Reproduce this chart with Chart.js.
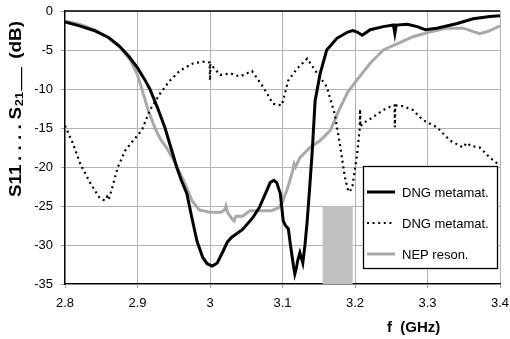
<!DOCTYPE html>
<html>
<head>
<meta charset="utf-8">
<script src="https://cdn.jsdelivr.net/npm/chart.js@4/dist/chart.umd.min.js"></script>
<style>
html,body{margin:0;padding:0;background:#fff;}
#wrap{width:510px;height:339px;}
</style>
</head>
<body>
<div id="wrap"><canvas id="c" width="510" height="339"></canvas></div>
<script>
// ---- data ----
const xTicks = [2.8, 2.9, 3.0, 3.1, 3.2, 3.3, 3.4];
const yTicks = [0, -5, -10, -15, -20, -25, -30, -35];

const s21Freq = [2.800,2.820,2.840,2.860,2.875,2.888,2.900,2.910,2.917,2.928,2.938,2.946,2.954,2.960,2.968,2.975,2.982,2.990,2.996,3.003,3.010,3.018,3.024,3.030,3.045,3.059,3.068,3.076,3.083,3.088,3.092,3.097,3.101,3.104,3.108,3.111,3.115,3.117,3.119,3.121,3.124,3.128,3.131,3.134,3.138,3.141,3.145,3.152,3.161,3.175,3.190,3.197,3.203,3.210,3.221,3.239,3.253,3.255,3.257,3.272,3.286,3.297,3.313,3.341,3.363,3.386,3.400];
const s21Val  = [-1.4,-1.9,-2.5,-3.4,-4.5,-5.8,-7.3,-8.8,-10,-12.5,-15,-17.5,-20,-21.6,-23.4,-26.5,-29.5,-31.6,-32.4,-32.7,-32.3,-30.8,-29.6,-29,-28,-26.5,-25.2,-23.5,-22,-21.7,-22,-23.4,-26.9,-27.5,-27.9,-30,-32.6,-33.7,-33,-32,-31,-32.3,-30,-27,-22,-18,-11.5,-8,-5,-3.5,-2.7,-2.5,-2.7,-3.1,-2.4,-2.0,-1.8,-2.9,-1.8,-1.7,-2.0,-2.4,-2.2,-1.6,-1.0,-0.7,-0.6];

const s11Freq = [2.800,2.811,2.821,2.835,2.848,2.855,2.858,2.860,2.864,2.873,2.883,2.894,2.906,2.917,2.931,2.945,2.959,2.977,2.990,2.9995,3.000,3.0005,3.014,3.028,3.041,3.058,3.073,3.087,3.099,3.108,3.120,3.134,3.145,3.161,3.172,3.179,3.186,3.191,3.196,3.203,3.2065,3.207,3.2075,3.211,3.225,3.239,3.252,3.2545,3.255,3.2555,3.266,3.280,3.294,3.313,3.331,3.349,3.354,3.360,3.372,3.386,3.400];
const s11Val  = [-14.7,-17,-19.6,-22.1,-24.0,-24.3,-23.8,-24.2,-23,-20,-17.9,-16.6,-15.3,-12.7,-10.6,-8.9,-7.6,-6.7,-6.5,-6.6,-8.9,-6.8,-8.2,-8.0,-8.4,-7.7,-9.7,-11.9,-12.1,-8.9,-7.4,-6.1,-7.6,-9.7,-13.2,-17,-21.3,-23.2,-22.8,-18.3,-15,-12.6,-14.8,-14.4,-13.6,-12.7,-12.1,-12.1,-14.9,-12.1,-12.2,-12.7,-14.0,-14.9,-16.6,-17.5,-16.9,-17.3,-17.5,-18.8,-19.8];

const nepFreq = [2.800,2.820,2.840,2.860,2.875,2.890,2.900,2.906,2.915,2.924,2.932,2.940,2.952,2.965,2.975,2.985,3.000,3.015,3.020,3.022,3.024,3.030,3.033,3.036,3.045,3.055,3.070,3.085,3.095,3.100,3.107,3.114,3.116,3.118,3.124,3.138,3.152,3.166,3.179,3.190,3.203,3.221,3.239,3.258,3.280,3.303,3.327,3.349,3.372,3.384,3.400];
const nepVal  = [-1.3,-1.7,-2.4,-3.4,-4.6,-6.3,-8.2,-10,-12.8,-15,-16.5,-17.5,-19.5,-22,-24.3,-25.5,-25.8,-25.8,-25.5,-25,-25.8,-26.6,-26.9,-26.3,-26.3,-25.6,-25.6,-25.6,-25.2,-24.5,-22.7,-20.5,-19.6,-20,-18.8,-17.5,-16.6,-15.3,-12.5,-10.4,-8.8,-6.7,-5.0,-4.2,-3.3,-2.7,-2.2,-2.2,-2.9,-2.6,-1.9];

const bandFreq = [3.155, 3.197];
const bandTop  = [-25, -25];

const seriesLabels = ['DNG metamat.', 'DNG metamat.', 'NEP reson.'];

// ---- build library data ----
const pts = (xs, ys) => xs.map((x, i) => ({x: x, y: ys[i]}));
const FONT = "'Liberation Sans', Arial, sans-serif";

const yTitlePlugin = {
  id: 'yTitle',
  afterDraw(chart) {
    const ctx = chart.ctx;
    ctx.save();
    ctx.translate(21, 197);
    ctx.rotate(-Math.PI / 2);
    ctx.scale(1.18, 1);
    ctx.fillStyle = '#000';
    ctx.textBaseline = 'alphabetic';
    ctx.textAlign = 'left';
    ctx.font = 'bold 16px ' + FONT;
    let d = 0;
    ctx.fillText('S11', d, 0);
    d += ctx.measureText('S11').width + 3;
    ctx.fillText('. . . .', d, 0);
    d += ctx.measureText('. . . .').width + 4;
    ctx.fillText('S', d, 0);
    d += ctx.measureText('S').width + 0.5;
    ctx.font = 'bold 11px ' + FONT;
    ctx.fillText('21', d, 2);
    d += ctx.measureText('21').width + 1;
    ctx.fillRect(d, 0, 20, 1.2);
    d += 27;
    ctx.font = 'bold 16px ' + FONT;
    ctx.fillText('(dB)', d, 0);
    ctx.restore();

    // x title
    ctx.save();
    ctx.font = 'bold 15px ' + FONT;
    ctx.fillStyle = '#000';
    ctx.textAlign = 'left';
    ctx.textBaseline = 'alphabetic';
    ctx.fillText('f  (GHz)', 387, 332);
    ctx.restore();
  }
};

const framePlugin = {
  id: 'frame',
  afterDatasetsDraw(chart) {
    const ctx = chart.ctx, a = chart.chartArea;
    ctx.save();
    ctx.strokeStyle = '#000';
    ctx.lineWidth = 1.5;
    ctx.beginPath();
    ctx.moveTo(a.left, a.top);
    ctx.lineTo(a.right, a.top);
    ctx.stroke();
    ctx.restore();
  }
};

const legendPlugin = {
  id: 'boxLegend',
  afterDraw(chart) {
    const ctx = chart.ctx;
    const bx = 363, by = 166, bw = 134, bh = 102;
    ctx.save();
    ctx.fillStyle = '#fff';
    ctx.fillRect(bx, by, bw, bh);
    ctx.strokeStyle = '#000';
    ctx.lineWidth = 1.3;
    ctx.strokeRect(bx + 0.5, by + 0.5, bw, bh);
    const rows = [192, 223, 254];
    ctx.font = '13px ' + FONT;
    ctx.textBaseline = 'middle';
    ctx.textAlign = 'left';
    [0, 1, 2].forEach((di, i) => {
      const ds = chart.data.datasets[di];
      const y = rows[i];
      ctx.save();
      ctx.strokeStyle = ds.borderColor;
      ctx.lineWidth = ds.borderWidth;
      ctx.setLineDash(ds.borderDash || []);
      ctx.beginPath();
      ctx.moveTo(367, y);
      ctx.lineTo(395, y);
      ctx.stroke();
      ctx.restore();
      ctx.fillStyle = '#000';
      ctx.fillText(seriesLabels[i], 402, y + 1);
    });
    ctx.restore();
  }
};

function noOverflow(s) {
  s.paddingTop = 0; s.paddingBottom = 0; s.paddingLeft = 0; s.paddingRight = 0;
}

new Chart(document.getElementById('c'), {
  type: 'scatter',
  data: {
    datasets: [
      { label: seriesLabels[0], data: pts(s21Freq, s21Val), showLine: true, borderColor: '#000', borderWidth: 3, pointRadius: 0, tension: 0, order: 2, fill: false },
      { label: seriesLabels[1], data: pts(s11Freq, s11Val), showLine: true, borderColor: '#000', borderWidth: 2.2, borderDash: [2, 3.6], pointRadius: 0, tension: 0, order: 1, fill: false },
      { label: seriesLabels[2], data: pts(nepFreq, nepVal), showLine: true, borderColor: '#a9a9a9', borderWidth: 3, pointRadius: 0, tension: 0, order: 3, fill: false },
      { label: 'band', data: pts(bandFreq, bandTop), showLine: true, borderWidth: 0, borderColor: 'rgba(0,0,0,0)', backgroundColor: '#c0c0c0', pointRadius: 0, fill: 'start', order: 4 }
    ]
  },
  options: {
    responsive: false,
    animation: false,
    devicePixelRatio: 1,
    layout: { padding: { top: 11, right: 10, left: 0, bottom: 0 } },
    plugins: { legend: { display: false }, tooltip: { enabled: false } },
    scales: {
      x: {
        type: 'linear', min: 2.8, max: 3.4,
        afterBuildTicks: s => { s.ticks = xTicks.map(v => ({value: v})); },
        afterFit: s => { s.height = 55; noOverflow(s); },
        ticks: { font: { family: FONT, size: 13 }, color: '#000', padding: 8,
                 callback: v => String(parseFloat(Number(v).toFixed(1))) },
        grid: { color: '#b4b4b4', lineWidth: 1, tickLength: 4, tickColor: '#9a9a9a' },
        border: { color: '#000', width: 1.3 }
      },
      y: {
        min: -35, max: 0,
        afterBuildTicks: s => { s.ticks = yTicks.slice().reverse().map(v => ({value: v})); },
        afterFit: s => { s.width = 65; noOverflow(s); },
        ticks: { font: { family: FONT, size: 13 }, color: '#000', padding: 8 },
        grid: { color: '#b4b4b4', lineWidth: 1, tickLength: 4, tickColor: '#9a9a9a' },
        border: { color: '#000', width: 1.3 }
      }
    }
  },
  plugins: [framePlugin, legendPlugin, yTitlePlugin]
});
</script>
</body>
</html>
